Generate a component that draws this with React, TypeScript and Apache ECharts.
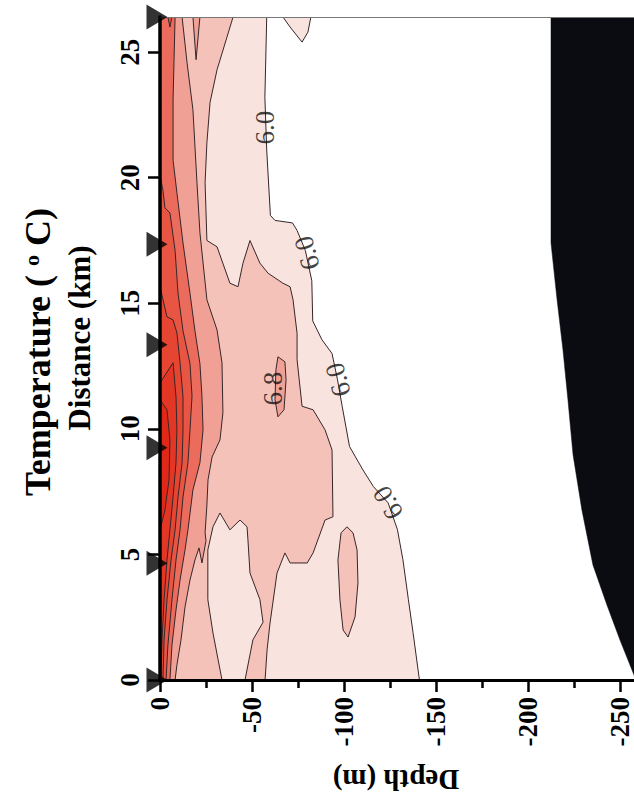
import React, { useEffect, useRef } from "react";
import * as echarts from "echarts";

// ---- axis values ----
const distanceTicks = [0, 5, 10, 15, 20, 25];
const depthLabelLimit = -250;
const stationDistances = [0, 4.65, 9.25, 13.35, 17.35, 26.4];

// ---- contour levels (deg C) and fills ----
const levelValues = [6.0, 6.4, 6.8, 7.2, 7.6, 8.0, 8.4, 8.8];
const levelColors = ["#f8e3de", "#f4c2b9", "#f0a094", "#eb6c5c", "#e85542", "#e64531", "#e43624", "#e02818"];

// region T >= level, points are [depth (m), distance (km)]
const level60Main = [[0, 26.4], [-58, 26.4], [-57, 23.2], [-58, 21.1], [-60, 18.5], [-62.5, 18.3], [-72, 18.2], [-74.5, 17.9], [-79, 17.1], [-82.5, 15.9], [-83, 14.3], [-88, 13.55], [-93.5, 13.0], [-96.5, 11.95], [-99, 10.9], [-103, 9.3], [-110, 8.4], [-116, 7.7], [-124, 7.05], [-129, 6.0], [-132, 4.8], [-135, 3.2], [-137.5, 1.9], [-141, 0], [0, 0]];
const level60Lobe = [[-66.8, 26.4], [-70.7, 26.0], [-77.2, 25.4], [-80.4, 25.8], [-82, 26.4]];
const level64Main = [[0, 26.4], [-39.7, 26.4], [-36.4, 25.6], [-31, 24.3], [-27.2, 23.0], [-25.5, 21.4], [-24.5, 19.8], [-25.5, 17.5], [-31, 17.25], [-38, 15.8], [-42.4, 15.66], [-45.1, 16.6], [-48.9, 17.5], [-54.3, 16.6], [-58.7, 16.2], [-66.8, 15.8], [-70.7, 15.66], [-72.3, 15.14], [-74.5, 13.8], [-74.5, 12.75], [-77.2, 10.9], [-83.2, 10.76], [-89.7, 9.96], [-93.5, 9.16], [-94, 6.5], [-89.7, 6.37], [-83.2, 5.06], [-80, 4.66], [-70.7, 4.66], [-67.9, 5.06], [-63.6, 4.26], [-59.8, 2.27], [-58.2, 1.2], [-57.1, 0], [-46.2, 0], [-50.5, 1.6], [-56, 2.3], [-54.3, 3.2], [-48.9, 4.26], [-47.8, 5.58], [-47.3, 6.1], [-43.5, 6.37], [-38, 5.98], [-32.6, 6.65], [-28.8, 6.1], [-26, 5.18], [-26, 3.2], [-28.8, 1.87], [-33.7, 0], [0, 0]];
const level64Oval = [[-101.6, 6.1], [-104.9, 5.86], [-107.1, 5.18], [-107.6, 3.86], [-106, 2.51], [-102.2, 1.71], [-99.5, 1.99], [-97.8, 3.19], [-96.7, 4.78], [-98.4, 5.86]];
const level68Main = [[0, 26.4], [-12, 26.4], [-14.7, 24.58], [-17.9, 22.71], [-20.1, 19.8], [-21.7, 17.81], [-25.5, 15.14], [-31, 13.94], [-33.7, 12.63], [-34.2, 10.64], [-32.6, 9.56], [-28.3, 8.88], [-26.1, 7.97], [-25.5, 6.97], [-24.5, 5.86], [-25, 5.54], [-22.8, 4.66], [-21.2, 5.26], [-19, 4.78], [-16.3, 3.98], [-13.6, 2.91], [-11.4, 1.59], [-9.2, 0.6], [-8.2, 0], [0, 0]];
const level68Spike = [[-17.9, 26.4], [-19.6, 24.7], [-21.7, 26.4]];
const level68Loop = [[-64.1, 12.87], [-67.9, 12.67], [-68.5, 11.95], [-67.4, 10.76], [-64.1, 10.48], [-62.5, 11.16], [-63, 12.35]];
const level72Main = [[0, 26.4], [-8.2, 26.4], [-7.1, 23.1], [-7.1, 20.7], [-9.2, 19.4], [-12.5, 17.4], [-16.3, 15.4], [-19, 13.9], [-21.7, 12.6], [-22.8, 11.3], [-23.4, 9.96], [-21.7, 8.65], [-17.9, 7.57], [-15.2, 5.98], [-13.6, 5.18], [-10.9, 3.98], [-8.7, 2.79], [-6.5, 1.39], [-5.4, 0], [0, 0]];
const level76Main = [[0, 20.1], [-1.6, 19.5], [-2.7, 18.8], [-5.4, 18.6], [-8.2, 17.1], [-9.8, 15.4], [-12.5, 13.9], [-16.3, 12.6], [-17.4, 11.3], [-16.3, 9.96], [-15.2, 8.65], [-12.5, 7.29], [-10.9, 5.98], [-8.7, 4.78], [-6.5, 3.19], [-4.3, 1.39], [-3.3, 0], [0, 0]];
const level76Spike = [[-4.3, 26.4], [-5.4, 26.0], [-6.5, 26.4]];
const level80Main = [[0, 15.66], [-3.8, 14.46], [-7.1, 14.34], [-9.2, 13.82], [-10.9, 12.63], [-12.5, 11.27], [-12.5, 9.96], [-12, 8.65], [-9.8, 7.29], [-8.2, 5.98], [-6, 4.78], [-3.8, 3.19], [-2.2, 1.59], [-1.6, 0], [0, 0]];
const level84Main = [[0, 11.83], [-7.1, 12.63], [-8.7, 11.27], [-9.2, 9.96], [-8.7, 8.65], [-7.1, 7.29], [-5.4, 5.98], [-3.8, 4.78], [-2.2, 3.19], [-1.1, 1.59], [-0.5, 0], [0, 0]];
const level88Main = [[0, 11.16], [-3.8, 10.76], [-5.4, 9.56], [-4.9, 7.97], [-2.7, 6.77], [0, 5.98]];

// bottom topography
const seafloor = [[-212.5, 26.4], [-212.5, 17.41], [-215.8, 15.14], [-219, 13.15], [-221.7, 11.16], [-224.5, 8.96], [-229.3, 6.77], [-235.3, 4.58], [-242.9, 2.99], [-250, 1.59], [-258.7, 0], [-300, 0], [-300, 26.4]];

// contour labels
const labelTexts = ["6.0", "6.0", "6.0", "6.0", "6.8"];
const labelDepths = [-57.1, -79.9, -96.7, -123.9, -61.5];
const labelDistances = [22.0, 17.0, 11.95, 7.05, 11.6];
const labelAngles = [90, 105, 105, 120, 90];

const FONT = '"Liberation Serif", "Times New Roman", serif';

const polygons: [number[][], number][] = [
  [level60Main, 0],
  [level60Lobe, 0],
  [level64Main, 1],
  [level64Oval, 1],
  [level68Main, 2],
  [level68Spike, 2],
  [level68Loop, 2],
  [level72Main, 3],
  [level76Main, 4],
  [level76Spike, 4],
  [level80Main, 5],
  [level84Main, 6],
  [level88Main, 7],
];

function polySeries(points: number[][], fill: string, stroke: string | null) {
  return {
    type: "custom",
    coordinateSystem: "cartesian2d",
    xAxisIndex: 0,
    yAxisIndex: 0,
    data: [[0, 0]],
    silent: true,
    clip: true,
    z: 2,
    renderItem: (_params: any, api: any) => ({
      type: "polygon",
      shape: { points: points.map((p) => api.coord(p)) },
      style: stroke
        ? { fill, stroke, lineWidth: 1 }
        : { fill, stroke: fill, lineWidth: 0.5 },
    }),
  };
}

export default function App() {
  const ref = useRef<HTMLDivElement>(null);
  useEffect(() => {
    if (!ref.current) return;
    const chart = echarts.init(ref.current, null, { renderer: "svg" });
    const series: any[] = polygons.map(([pts, li]) =>
      polySeries(pts, levelColors[li], "#36262a")
    );
    series.push(polySeries(seafloor, "#0b0b12", null));
    series.push({
      type: "scatter",
      name: "labels",
      symbol: "circle",
      symbolSize: 0,
      silent: true,
      z: 12,
      clip: false,
      data: labelTexts.map((t, i) => ({
        name: t,
        value: [labelDepths[i], labelDistances[i]],
        label: { rotate: labelAngles[i] },
      })),
      label: {
        show: true,
        position: "inside",
        formatter: (p: any) => p.name,
        fontFamily: FONT,
        fontSize: 27,
        color: "#111",
      },
    });
    series.push({
      type: "scatter",
      name: "stations",
      symbol: "triangle",
      symbolSize: [25, 21],
      symbolRotate: -90,
      symbolOffset: [-3, 0],
      silent: true,
      clip: false,
      z: 15,
      itemStyle: { color: "#000" },
      data: stationDistances.map((d) => [0, d]),
    });

    const option: any = {
      animation: false,
      backgroundColor: "#ffffff",
      grid: { left: 160, top: 17, right: -78, bottom: 123, containLabel: false, outerBoundsMode: "none" },
      xAxis: [
        {
          type: "value",
          min: -300,
          max: 0,
          interval: 50,
          inverse: true,
          position: "bottom",
          z: 10,
          axisLine: { show: true, onZero: false, lineStyle: { color: "#000", width: 3 } },
          axisTick: { show: true, length: 12, lineStyle: { color: "#000", width: 2.5 } },
          minorTick: { show: true, splitNumber: 2, length: 8, lineStyle: { color: "#000", width: 2.5 } },
          axisLabel: {
            rotate: 90,
            margin: 17,
            fontSize: 27,
            lineHeight: 20,
            fontWeight: "bold",
            fontFamily: FONT,
            color: "#000",
            formatter: (v: number) => (v < depthLabelLimit ? "" : String(v)),
          },
          splitLine: { show: false },
        },
        {
          type: "value",
          min: -300,
          max: 0,
          inverse: true,
          position: "top",
          z: 10,
          axisLine: { show: true, onZero: false, lineStyle: { color: "#777", width: 1 } },
          axisTick: { show: false },
          axisLabel: { show: false },
          splitLine: { show: false },
        },
      ],
      yAxis: {
        type: "value",
        min: 0,
        max: 26.4,
        interval: 5,
        z: 10,
        axisLine: { show: true, onZero: false, lineStyle: { color: "#000", width: 3.5 } },
        axisTick: { show: true, length: 12, customValues: distanceTicks, lineStyle: { color: "#000", width: 2.5 } },
        axisLabel: {
          customValues: distanceTicks,
          rotate: 90,
          margin: 17,
          fontSize: 27,
          fontWeight: "bold",
          fontFamily: FONT,
          color: "#000",
        },
        splitLine: { show: false },
      },
      graphic: [
        {
          type: "text",
          x: 38,
          y: 352,
          rotation: Math.PI / 2,
          z: 20,
          style: {
            text: "{a|Temperature ( }{s|o}{a| C)}",
            align: "center",
            verticalAlign: "middle",
            textAlign: "center",
            textVerticalAlign: "middle",
            rich: {
              a: { fontSize: 36, fontWeight: "bold", fontFamily: FONT, fill: "#000", color: "#000" },
              s: { fontSize: 22, fontWeight: "bold", fontFamily: FONT, fill: "#000", color: "#000", verticalAlign: "top" },
            },
          },
        },
        {
          type: "text",
          x: 79,
          y: 338,
          rotation: Math.PI / 2,
          z: 20,
          style: {
            text: "Distance (km)",
            font: `bold 31px ${FONT}`,
            fill: "#000",
            align: "center",
            verticalAlign: "middle",
            textAlign: "center",
            textVerticalAlign: "middle",
          },
        },
        {
          type: "text",
          x: 396,
          y: 780,
          rotation: Math.PI,
          z: 20,
          style: {
            text: "Depth (m)",
            font: `bold 29px ${FONT}`,
            fill: "#000",
            align: "center",
            verticalAlign: "middle",
            textAlign: "center",
            textVerticalAlign: "middle",
          },
        },
      ],
      series,
    };
    chart.setOption(option);
    return () => chart.dispose();
  }, []);
  return (
    <div
      ref={ref}
      style={{ position: "fixed", left: 0, top: 0, width: 634, height: 803, background: "#fff" }}
    />
  );
}
